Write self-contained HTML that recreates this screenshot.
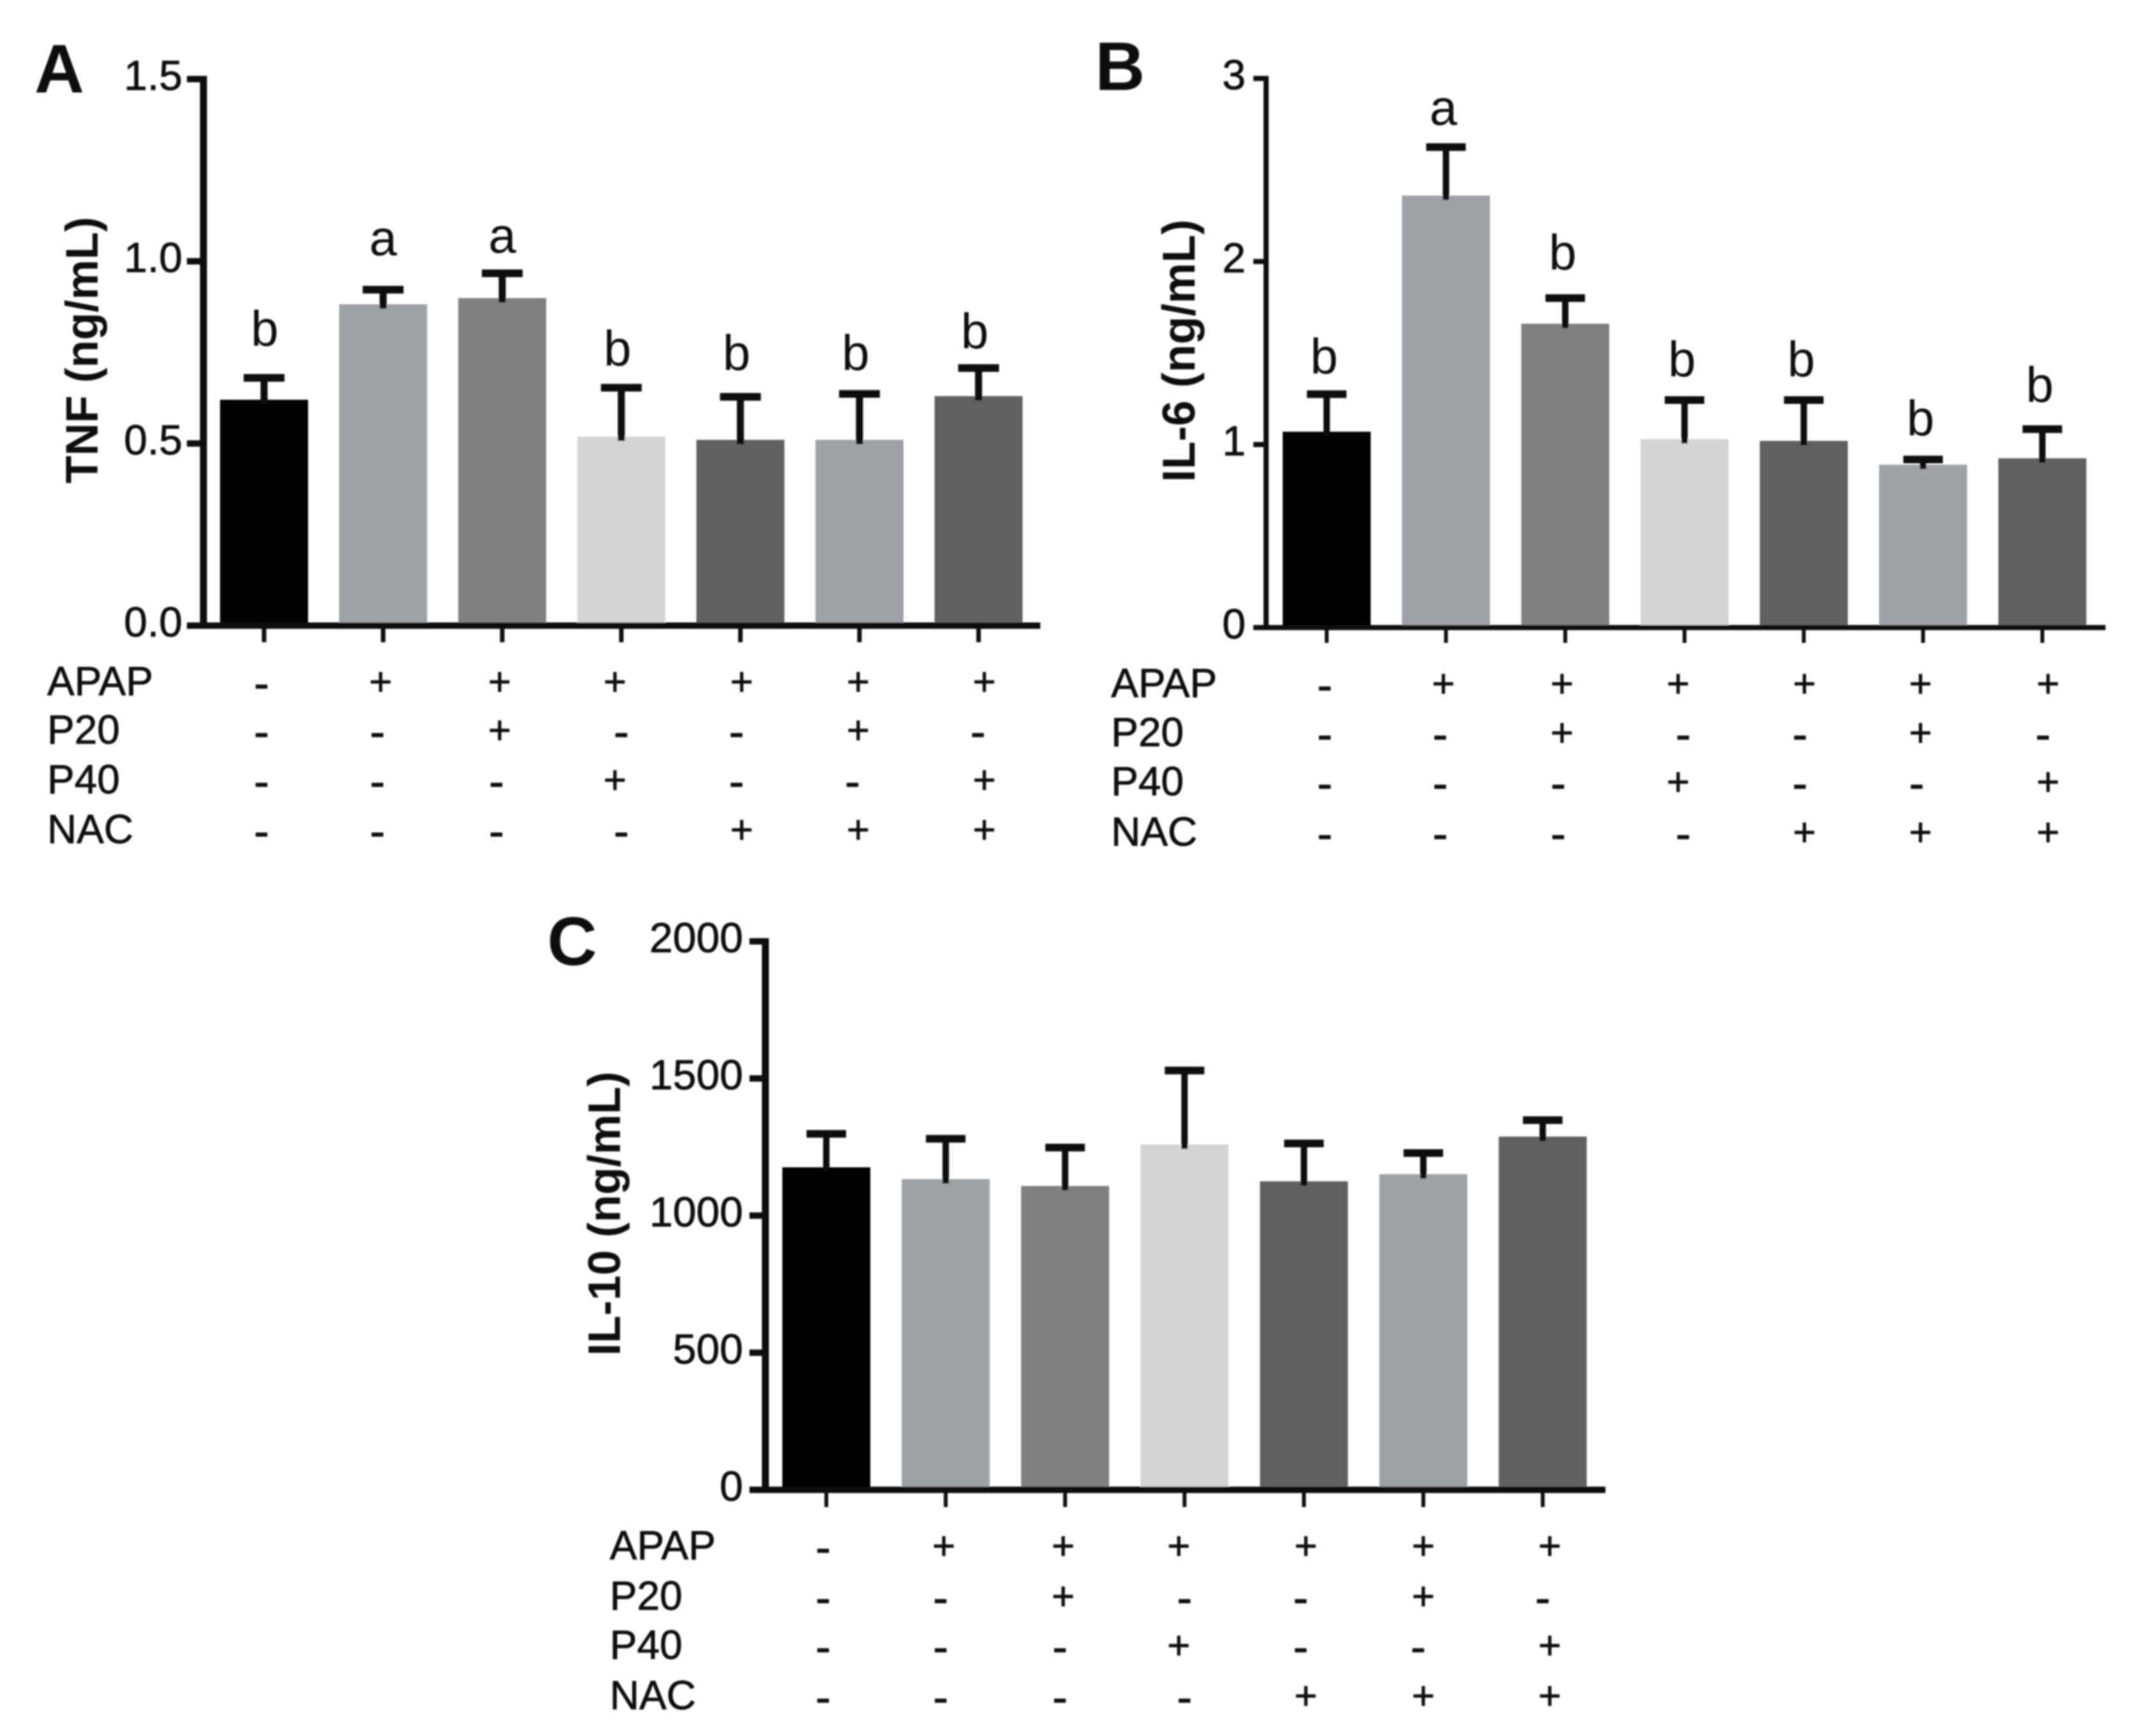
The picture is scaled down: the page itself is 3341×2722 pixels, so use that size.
<!DOCTYPE html>
<html lang="en">
<head>
<meta charset="utf-8">
<title>TNF, IL-6 and IL-10 bar charts</title>
<style>
html,body{margin:0;padding:0;background:#fff;}
svg{display:block;}
text{font-family:"Liberation Sans",Arial,sans-serif;fill:#0a0a0a;}
.thick{stroke:#0a0a0a;stroke-width:0.8px;}
</style>
</head>
<body>
<svg id="figure" xmlns="http://www.w3.org/2000/svg" width="3341" height="2722" viewBox="0 0 3341 2722">
<defs><filter id="soften" x="0" y="0" width="100%" height="100%" filterUnits="userSpaceOnUse" primitiveUnits="userSpaceOnUse"><feGaussianBlur stdDeviation="1.2"/></filter></defs>
<rect width="3341" height="2722" fill="#ffffff"/>
</svg>
<script>
const treatmentNames = ["APAP", "P20", "P40", "NAC"];
const apapSigns = ["-", "+", "+", "+", "+", "+", "+"];
const p20Signs  = ["-", "-", "+", "-", "-", "+", "-"];
const p40Signs  = ["-", "-", "-", "+", "-", "-", "+"];
const nacSigns  = ["-", "-", "-", "-", "+", "+", "+"];
const barColors = ["#000000", "#a0a1a5", "#808080", "#d4d4d4", "#616161", "#a0a1a5", "#616161"];

const tnfTicks = ["0.0", "0.5", "1.0", "1.5"];
const tnfValues = [0.62, 0.882, 0.899, 0.519, 0.51, 0.51, 0.63];
const tnfErrors = [0.06, 0.04, 0.068, 0.134, 0.118, 0.126, 0.077];
const tnfLetters = ["b", "a", "a", "b", "b", "b", "b"];
const tnfLetterGaps = [0.088, 0.095, 0.057, 0.061, 0.074, 0.066, 0.054];

const il6Ticks = ["0", "1", "2", "3"];
const il6Values = [1.07, 2.36, 1.66, 1.03, 1.02, 0.89, 0.925];
const il6Errors = [0.205, 0.265, 0.14, 0.213, 0.223, 0.028, 0.159];
const il6Letters = ["b", "a", "b", "b", "b", "b", "b"];
const il6LetterGaps = [0.113, 0.123, 0.156, 0.129, 0.129, 0.132, 0.15];

const il10Ticks = ["0", "500", "1000", "1500", "2000"];
const il10Values = [1176, 1133, 1108, 1259, 1125, 1151, 1288];
const il10Errors = [122, 147, 140, 270, 138, 77, 60];

const SVG_NS = "http://www.w3.org/2000/svg";
const figure = document.getElementById("figure");

function shape(parent, tag, props) {
  const el = document.createElementNS(SVG_NS, tag);
  for (const k in props) el.setAttribute(k, props[k]);
  parent.appendChild(el);
  return el;
}
function label(parent, str, props) {
  const el = shape(parent, "text", props);
  el.textContent = str;
  return el;
}

function drawPanel(p) {
  const g = shape(figure, "g", {filter: "url(#soften)"});
  
  

  const maxTick = Number(p.ticks[p.ticks.length - 1]);
  const yScale = v => p.base - v * (p.base - p.top) / maxTick;
  const xScale = i => p.x0 + i * p.step;

  const letterEl = label(g, p.letter, {x: p.letterX, y: p.letterY, "font-size": 108, "font-weight": "bold"});
  
  

  const titleEl = label(g, p.title, {
    transform: "translate(" + p.titleX + "," + p.titleY + ") rotate(-90)",
    "text-anchor": "middle", "font-size": p.titleSize, "font-weight": "bold"
  });
  
  

  p.values.forEach((v, i) => {
    const cx = xScale(i);
    const topV = v + p.errors[i];

    const bar = shape(g, "rect", {x: cx - p.barW / 2, y: yScale(v), width: p.barW, height: p.base - yScale(v), fill: barColors[i]});
    
    

    const stem = shape(g, "rect", {x: cx - p.stemW / 2, y: yScale(topV), width: p.stemW, height: yScale(v) - yScale(topV) + 7, fill: "#0a0a0a"});
    
    

    const cap = shape(g, "rect", {x: cx - p.capW / 2, y: yScale(topV) - p.capH / 2, width: p.capW, height: p.capH, fill: "#0a0a0a"});
    
    

    if (p.letters) {
      const sig = label(g, p.letters[i], {x: cx + p.letterNudge[i], y: yScale(topV + p.letterGaps[i]), "text-anchor": "middle", "font-size": 78});
      
      
    }

    const tick = shape(g, "rect", {x: cx - p.tickW / 2, y: p.base, width: p.tickW, height: p.tickL, fill: "#0a0a0a"});
    
    
  });

  const yAxis = shape(g, "rect", {x: p.axisX - p.axisW / 2, y: p.top - p.axisH / 2, width: p.axisW, height: p.base - p.top + p.axisH, fill: "#0a0a0a"});
  
  

  const xAxis = shape(g, "rect", {x: p.tickLeft, y: p.base - p.axisH / 2, width: p.axisRight - p.tickLeft, height: p.axisH, fill: "#0a0a0a"});
  
  

  p.ticks.forEach(t => {
    const v = Number(t);
    const tm = shape(g, "rect", {x: p.tickLeft, y: yScale(v) - p.axisH / 2, width: p.axisX - p.tickLeft, height: p.axisH, fill: "#0a0a0a"});
    
    

    const tl = label(g, t, {x: p.tickLabelX, y: yScale(v) + 17, "text-anchor": "end", "font-size": 66, class: "thick"});
    
    
  });

  const signRows = [apapSigns, p20Signs, p40Signs, nacSigns];
  signRows.forEach((signs, r) => {
    const rowName = label(g, treatmentNames[r], {x: p.rowX, y: p.rowBase[r], "font-size": 64, class: "thick"});
    
    

    signs.forEach((s, i) => {
      const isPlus = s === "+";
      const sx = xScale(i) + (isPlus ? p.plusNudge[i] : p.minusNudge[i]);
      const sy = p.rowBase[r] + (isPlus ? 0 : p.minusDrop);
      const mark = label(g, s, {x: sx, y: sy, "text-anchor": "middle", "font-size": isPlus ? 62 : 72, class: "thick"});
      
      
    });
  });
}

drawPanel({
  id: "tnf", letter: "A", letterX: 54, letterY: 145,
  title: "TNF (ng/mL)", titleX: 153, titleY: 549, titleSize: 71,
  ticks: tnfTicks, values: tnfValues, errors: tnfErrors, letters: tnfLetters, letterGaps: tnfLetterGaps,
  letterNudge: [1, 0, 0, -6, -6, -6, -6],
  base: 981, top: 124, axisX: 319, axisW: 11, axisH: 10, tickLeft: 293, axisRight: 1631, tickLabelX: 286,
  x0: 414, step: 186.7, barW: 138, stemW: 11, capW: 64, capH: 12, tickW: 7, tickL: 26,
  rowX: 74, rowBase: [1090, 1166, 1244, 1322], minusDrop: 6,
  plusNudge: [0, -4, -4, -10, 2, -2, 9], minusNudge: [-4, -9, -9, 0, -6, -11, -1]
});

drawPanel({
  id: "il6", letter: "B", letterX: 1717, letterY: 141,
  title: "IL-6 (ng/mL)", titleX: 1873, titleY: 550, titleSize: 72,
  ticks: il6Ticks, values: il6Values, errors: il6Errors, letters: il6Letters, letterGaps: il6LetterGaps,
  letterNudge: [-4, -4, -4, -4, -4, -4, -4],
  base: 984, top: 123, axisX: 1985, axisW: 8, axisH: 8, tickLeft: 1965, axisRight: 3301, tickLabelX: 1953,
  x0: 2080, step: 187, barW: 138, stemW: 10, capW: 62, capH: 12, tickW: 6, tickL: 24,
  rowX: 1742, rowBase: [1093, 1170, 1247, 1326], minusDrop: 6,
  plusNudge: [0, -4, -5, -10, 1, -4, 9], minusNudge: [-3, -9, -11, -2, -6, -10, 1]
});

drawPanel({
  id: "il10", letter: "C", letterX: 858, letterY: 1513,
  title: "IL-10 (ng/mL)", titleX: 972, titleY: 1903, titleSize: 71,
  ticks: il10Ticks, values: il10Values, errors: il10Errors,
  base: 2336, top: 1476, axisX: 1200, axisW: 11, axisH: 10, tickLeft: 1175, axisRight: 2517, tickLabelX: 1165,
  x0: 1295.5, step: 187.2, barW: 138, stemW: 10, capW: 62, capH: 12, tickW: 6, tickL: 27,
  rowX: 956, rowBase: [2445, 2524, 2601, 2680], minusDrop: 6,
  plusNudge: [0, -3, -3, -9, 3, 0, 11], minusNudge: [-5, -8, -8, 0, -5, -8, 0]
});
</script>
</body>
</html>
